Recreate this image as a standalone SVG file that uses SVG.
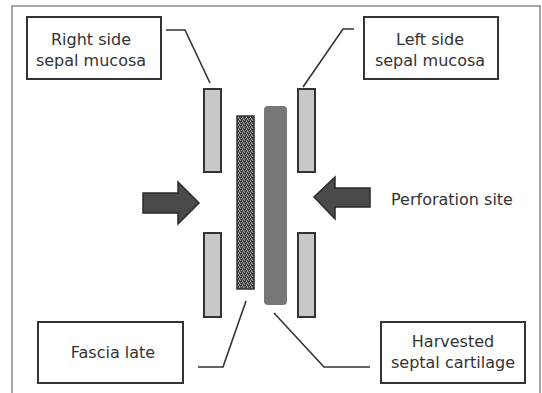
<svg xmlns="http://www.w3.org/2000/svg" width="542" height="393" viewBox="0 0 542 393">
<style>
.lbl{fill:#fff;stroke:#333;stroke-width:2}
.t{font-family:"DejaVu Sans",sans-serif;font-size:16px;fill:#333;text-anchor:middle}
.muc{fill:#c8c8c8;stroke:#333;stroke-width:2}
.arr{fill:#4a4a4a;stroke:#2a2a2a;stroke-width:1.5}
.con{fill:none;stroke:#333;stroke-width:1.6}
</style>
<defs>
<pattern id="tex" width="4" height="4" patternUnits="userSpaceOnUse">
<rect width="4" height="4" fill="#3a3a3a"/>
<rect x="0" y="0" width="1" height="1" fill="#a0a0a0"/>
<rect x="2" y="0" width="1" height="1" fill="#777"/>
<rect x="2" y="1" width="1" height="1" fill="#bbb"/>
<rect x="1" y="2" width="1" height="1" fill="#999"/>
<rect x="3" y="2" width="1" height="1" fill="#888"/>
<rect x="3" y="3" width="1" height="1" fill="#aaa"/>
<rect x="0" y="3" width="1" height="1" fill="#6a6a6a"/>
</pattern>
</defs>
<rect width="542" height="393" fill="#fff"/>
<path d="M12,393 V6 H540 V393" fill="none" stroke="#8a8a8a" stroke-width="1.5"/>
<g id="connectors">
<polyline class="con" points="166,30 185,30 210,83"/>
<polyline class="con" points="354,29 343,29 303,87"/>
<polyline class="con" points="198,367 223,367 246,301"/>
<polyline class="con" points="274,313 324,367 370,367"/>
</g>
<g id="right-mucosa-upper"><rect class="muc" x="204" y="89" width="17" height="83"/></g>
<g id="right-mucosa-lower"><rect class="muc" x="204" y="233" width="17" height="84"/></g>
<g id="left-mucosa-upper"><rect class="muc" x="298" y="89" width="17" height="83"/></g>
<g id="left-mucosa-lower"><rect class="muc" x="298" y="233" width="17" height="84"/></g>
<g id="fascia"><rect x="237" y="116" width="17" height="173" fill="url(#tex)" stroke="#333" stroke-width="1.5"/></g>
<g id="cartilage"><rect x="264" y="106" width="23" height="199" rx="4" fill="#777"/></g>
<g id="arrow-left"><polygon class="arr" points="143,193 178,193 178,182 199,203 178,224 178,213 143,213"/></g>
<g id="arrow-right"><polygon class="arr" points="370,188 335,188 335,177 314,197 335,219 335,207 370,207"/></g>
<g id="label-right-mucosa">
<rect class="lbl" x="27" y="17" width="134" height="62"/>
<text class="t" x="91" y="45">Right side</text>
<text class="t" x="91" y="66">sepal mucosa</text>
</g>
<g id="label-left-mucosa">
<rect class="lbl" x="364" y="17" width="134" height="62"/>
<text class="t" x="430" y="45">Left side</text>
<text class="t" x="430" y="66">sepal mucosa</text>
</g>
<g id="label-perforation">
<text class="t" x="391" y="205" style="text-anchor:start">Perforation site</text>
</g>
<g id="label-fascia">
<rect class="lbl" x="38" y="322" width="145" height="61"/>
<text class="t" x="113" y="358">Fascia late</text>
</g>
<g id="label-cartilage">
<rect class="lbl" x="381" y="322" width="144" height="61"/>
<text class="t" x="453" y="347">Harvested</text>
<text class="t" x="453" y="368">septal cartilage</text>
</g>
</svg>
